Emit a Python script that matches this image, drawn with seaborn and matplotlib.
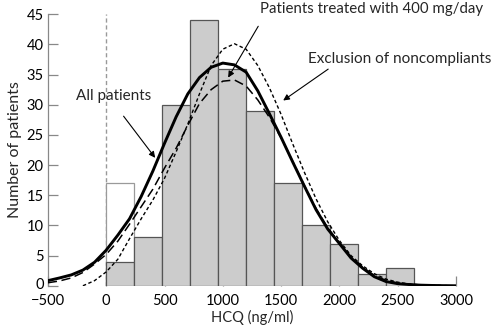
import numpy as np
import pandas as pd
import matplotlib
matplotlib.use("Agg")
import matplotlib.pyplot as plt
import matplotlib.transforms as mtransforms
import seaborn as sns

# Histogram data (bin width 240 ng/ml)
bin_edges = [0, 240, 480, 720, 960, 1200, 1440, 1680, 1920, 2160, 2400, 2640]
counts = [4, 8, 30, 44, 36, 29, 17, 10, 7, 2, 3]
open_bar_edges = [0, 240]
open_bar_count = [17]

# Fitted curves
curve_x = [-500, -400, -300, -200, -100, 0, 100, 200, 300, 400, 500, 600, 700, 800,
           900, 1000, 1100, 1200, 1300, 1400, 1500, 1600, 1700, 1800, 1900, 2000,
           2100, 2200, 2300, 2400, 2500, 2600, 2700, 2800, 2900, 3000]
all_patients = [0.85, 1.3, 1.8, 2.6, 3.9, 5.9, 8.4, 11.1, 14.8, 19.0, 23.6, 28.0, 31.8,
                34.5, 36.2, 36.9, 36.6, 35.4, 32.3, 28.5, 24.6, 20.5, 16.5, 12.6, 9.4,
                7.0, 4.6, 2.9, 1.5, 0.7, 0.35, 0.2, 0.1, 0.05, 0.02, 0.0]
treated_400 = [0.5, 0.8, 1.3, 2.2, 3.6, 5.2, 7.4, 10.2, 13.1, 16.0, 19.5, 22.8, 26.6,
               30.2, 32.5, 33.9, 34.1, 33.1, 30.8, 27.9, 24.5, 20.6, 16.6, 12.8, 9.6,
               7.1, 4.8, 3.1, 1.7, 0.9, 0.45, 0.25, 0.12, 0.06, 0.03, 0.0]
excl_x = curve_x[3:]
excl_noncompliant = [0.0, 0.85, 2.3, 4.4, 7.8, 11.1, 14.2, 17.8, 22.2, 26.8, 31.8, 36.5,
                     39.2, 40.1, 39.2, 36.5, 32.8, 28.4, 23.5, 18.8, 14.4, 10.6, 7.5,
                     5.0, 3.3, 2.0, 1.1, 0.6, 0.3, 0.15, 0.07, 0.03, 0.0]

x_ticks = [-500, 0, 500, 1000, 1500, 2000, 2500, 3000]
y_ticks = [0, 5, 10, 15, 20, 25, 30, 35, 40, 45]

sns.set_style("ticks")
plt.rcParams['font.family'] = ['Lato', 'DejaVu Sans']

fig = plt.figure(figsize=(4.94, 3.30), dpi=100)
ax = fig.add_axes([0.097, 0.134, 0.826, 0.823])

centers = [(a + b) / 2 for a, b in zip(bin_edges[:-1], bin_edges[1:])]
hist_df = pd.DataFrame({"x": centers, "w": counts})
open_df = pd.DataFrame({"x": [(open_bar_edges[0] + open_bar_edges[1]) / 2], "w": open_bar_count})

sns.histplot(data=open_df, x="x", weights="w", bins=open_bar_edges, ax=ax,
             color="white", edgecolor="#9a9a9a", linewidth=0.9, alpha=1, zorder=1)
sns.histplot(data=hist_df, x="x", weights="w", bins=bin_edges, ax=ax,
             color="#cccccc", edgecolor="#555555", linewidth=0.9, alpha=1, zorder=2)

ax.axvline(0, ymin=0, ymax=1, color="#999999", lw=1.0, ls=(0, (3, 2)), zorder=0)

sns.lineplot(x=curve_x, y=all_patients, ax=ax, color="black", lw=2.1, zorder=5)
sns.lineplot(x=curve_x, y=treated_400, ax=ax, color="black", lw=1.1, zorder=4)
ax.lines[-1].set_dashes([6, 3])
sns.lineplot(x=excl_x, y=excl_noncompliant, ax=ax, color="black", lw=1.0, zorder=4)
ax.lines[-1].set_dashes([2.5, 1.8])

ax.set_xlim(-500, 3000)
ax.set_ylim(0, 45)
ax.set_xticks(x_ticks)
ax.set_yticks(y_ticks)
ax.set_xticklabels(["\u2212500"] + [str(t) for t in x_ticks[1:]])
ax.tick_params(direction="in", length=7, width=0.9, color="#888888",
               labelsize=10.5, labelcolor="black")
ax.tick_params(axis="x", pad=6)
ax.tick_params(axis="y", pad=3)
# lift the "0" y label slightly so it clears the "-500" x label
lift = mtransforms.ScaledTranslation(0, 2 / 72, fig.dpi_scale_trans)
ylab0 = ax.get_yticklabels()[0]
ylab0.set_transform(ylab0.get_transform() + lift)
for s in ["top", "right", "bottom"]:
    ax.spines[s].set_visible(False)
ax.spines["left"].set_color("#888888")
ax.spines["left"].set_linewidth(0.9)
ax.set_xlabel("HCQ (ng/ml)", fontsize=10.5, labelpad=1)
ax.set_ylabel("Number of patients", fontsize=11.5, labelpad=3)

arrow = dict(arrowstyle="-|>", color="black", lw=0.8, mutation_scale=9,
             shrinkA=0, shrinkB=0)
ax.annotate("All patients", xy=(0, 0), xytext=(67, 31.4), fontsize=11,
            ha="center", va="center")
ax.annotate("", xy=(420, 21.2), xytext=(149, 28.1), arrowprops=arrow)
ax.annotate("Patients treated with 400 mg/day", xy=(0, 0), xytext=(2275, 45.8),
            fontsize=10.8, ha="center", va="center", annotation_clip=False)
ax.annotate("", xy=(1046, 34.5), xytext=(1304, 43.0), arrowprops=arrow)
ax.annotate("Exclusion of noncompliants", xy=(0, 0), xytext=(2520, 37.6),
            fontsize=11, ha="center", va="center", annotation_clip=False)
ax.annotate("", xy=(1518, 30.7), xytext=(1904, 35.9), arrowprops=arrow)

fig.savefig("out.png", dpi=100)
